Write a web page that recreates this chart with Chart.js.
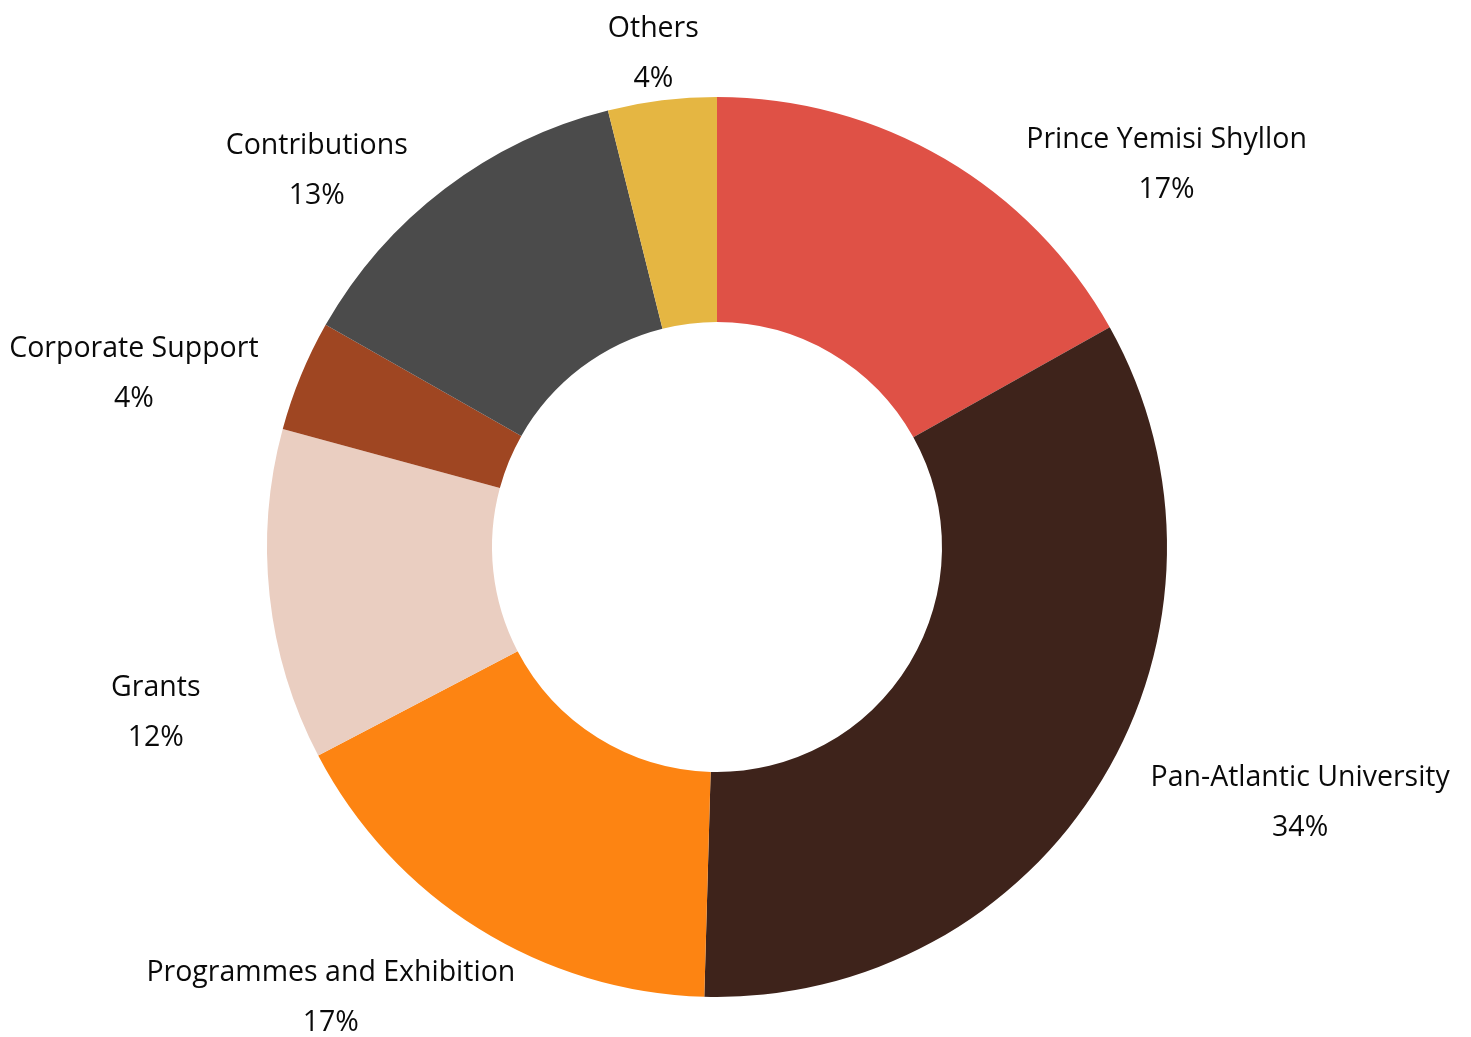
<!DOCTYPE html>
<html>
<head>
<meta charset="utf-8">
<script src="https://cdn.jsdelivr.net/npm/chart.js@4/dist/chart.umd.min.js"></script>
<style>
html,body{margin:0;padding:0;background:#fff;}
#wrap{width:1471px;height:1037px;position:relative;}
</style>
</head>
<body>
<div id="wrap"><canvas id="c" width="1471" height="1037"></canvas></div>
<script>
const categories = ["Prince Yemisi Shyllon","Pan-Atlantic University","Programmes and Exhibition","Grants","Corporate Support","Contributions","Others"];
const shares = [16.9, 33.6, 16.9, 11.9, 4.0, 12.9, 3.9];
const sliceColors = ["#DF5146","#3E231B","#FD8412","#EACEC1","#9F4622","#4B4B4B","#E5B642"];
// label layout nudges (px) relative to the slice mid-angle point at 1.25 x outer radius
const labelNudge = [[165,101],[102,-38],[-88,-28],[-2,103],[-63,39],[-60,70],[5,63]];

const FONT = '28.5px "Open Sans", "Noto Sans", sans-serif';

const outsideLabels = {
  id: 'outsideLabels',
  afterDatasetsDraw(chart) {
    const ctx = chart.ctx;
    const meta = chart.getDatasetMeta(0);
    const data = chart.data.datasets[0].data;
    const total = data.reduce((a,b)=>a+b,0);
    ctx.save();
    ctx.font = FONT;
    ctx.fillStyle = '#0a0a0a';
    ctx.textAlign = 'center';
    ctx.textBaseline = 'middle';
    meta.data.forEach((arc, i) => {
      const p = arc.getProps(['x','y','startAngle','endAngle','outerRadius'], true);
      const mid = (p.startAngle + p.endAngle) / 2;
      const r = p.outerRadius * 1.25;
      const x = p.x + Math.cos(mid) * r + labelNudge[i][0];
      const y = p.y + Math.sin(mid) * r + labelNudge[i][1];
      const pct = Math.round(data[i] / total * 100) + '%';
      ctx.fillText(chart.data.labels[i], x, y - 23);
      ctx.fillText(pct, x, y + 27);
    });
    ctx.restore();
  }
};

new Chart(document.getElementById('c'), {
  type: 'doughnut',
  data: {
    labels: categories,
    datasets: [{
      data: shares,
      backgroundColor: sliceColors,
      borderWidth: 0
    }]
  },
  options: {
    responsive: false,
    animation: false,
    cutout: '50%',
    layout: { padding: { top: 97, bottom: 40, left: 0, right: 37 } },
    plugins: { legend: { display: false }, tooltip: { enabled: false } }
  },
  plugins: [outsideLabels]
});
</script>
</body>
</html>
